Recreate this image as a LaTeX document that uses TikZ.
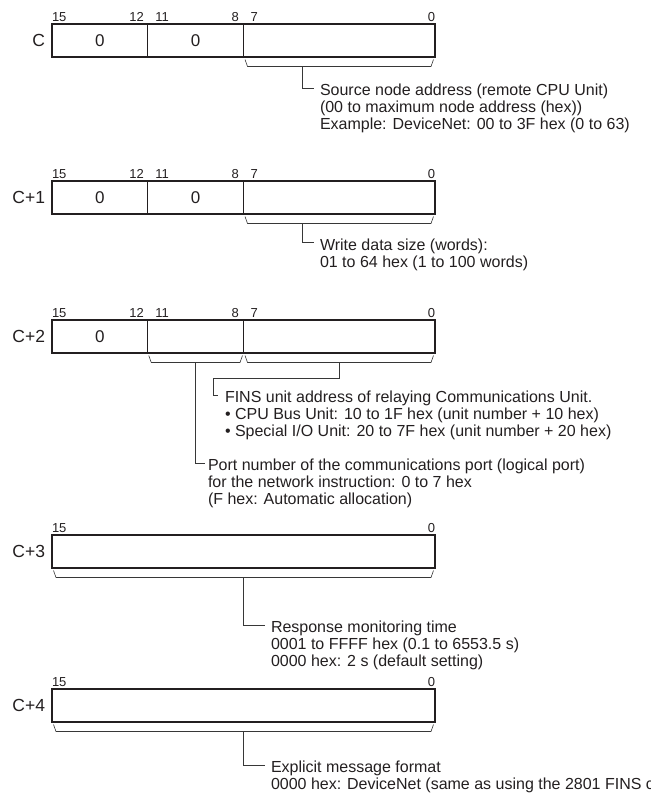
\documentclass[tikz,border=0pt]{standalone}
\usepackage{fontspec}
\setmainfont{Liberation Sans}
\usepackage{xcolor}
\usetikzlibrary{positioning}
\definecolor{ink}{RGB}{35,31,32}
\definecolor{rule}{RGB}{55,55,55}

\begin{document}
\begin{tikzpicture}[x=1pt, y=-1pt,
  cell/.style={draw=ink, line width=0.8pt, minimum height=33pt, minimum width=95.75pt, inner sep=0pt, outer sep=0pt, font=\fontsize{17}{20}\selectfont, text=ink},
  frame/.style={draw=ink, line width=1.6pt},
  reg/.style={inner sep=0pt, outer sep=0pt, font=\fontsize{17.5}{20}\selectfont, text=ink},
  bitno/.style={inner sep=0pt, outer sep=0pt, font=\fontsize{13}{14}\selectfont, text=ink},
  note/.style={inner sep=0pt, outer sep=0pt, align=left, font=\fontsize{16}{17}\selectfont, text=ink},
  brk/.style={draw=rule, line width=0.6pt, line join=round},
  lead/.style={draw=rule, line width=0.6pt}]
  \useasboundingbox (0,0) rectangle (651,793);

  \node[cell, anchor=north west] (w0a) at (52,24) {0};
  \node[cell, right=0pt of w0a] (w0b) {0};
  \node[cell, minimum width=191.5pt, right=0pt of w0b] (w0c) {};
  \draw[frame] (w0a.north west) rectangle (w0c.south east);
  \node[reg, left=7pt of w0a] (l0) {C};
  \node[bitno, anchor=base west] (w0n15) at ([yshift=3pt]w0a.north west) {15};
  \node[bitno, anchor=base east] (w0n12) at ([xshift=-4pt,yshift=3pt]w0a.north east) {12};
  \node[bitno, anchor=base west] (w0n11) at ([xshift=7.5pt,yshift=3pt]w0b.north west) {11};
  \node[bitno, anchor=base east] (w0n8) at ([xshift=-4.7pt,yshift=3pt]w0b.north east) {8};
  \node[bitno, anchor=base west] (w0n7) at ([xshift=7pt,yshift=3pt]w0c.north west) {7};
  \node[bitno, anchor=base east] (w0n0) at ([yshift=3pt]w0c.north east) {0};
  \draw[brk] ([xshift=1.5pt,yshift=-2.5pt]w0c.south west) -- ++(2.5,7) -- ([xshift=-4pt,yshift=-9.5pt]w0c.south east) -- ++(2.5,-7);
  \coordinate (k0) at ([xshift=58.5pt,yshift=-9.5pt]w0c.south west);
  \node[note, below right=17.5pt and 18pt of k0] (t0)
    {Source node address (remote CPU Unit)\\(00 to maximum node address (hex))\\Example: DeviceNet: 00 to 3F hex (0 to 63)};
  \draw[lead] (k0) |- ([xshift=-6pt,yshift=-4pt]t0.north west);

  \node[cell, anchor=north west] (w1a) at (52,181) {0};
  \node[cell, right=0pt of w1a] (w1b) {0};
  \node[cell, minimum width=191.5pt, right=0pt of w1b] (w1c) {};
  \draw[frame] (w1a.north west) rectangle (w1c.south east);
  \node[reg, left=7pt of w1a] (l1) {C+1};
  \node[bitno, anchor=base west] (w1n15) at ([yshift=3pt]w1a.north west) {15};
  \node[bitno, anchor=base east] (w1n12) at ([xshift=-4pt,yshift=3pt]w1a.north east) {12};
  \node[bitno, anchor=base west] (w1n11) at ([xshift=7.5pt,yshift=3pt]w1b.north west) {11};
  \node[bitno, anchor=base east] (w1n8) at ([xshift=-4.7pt,yshift=3pt]w1b.north east) {8};
  \node[bitno, anchor=base west] (w1n7) at ([xshift=7pt,yshift=3pt]w1c.north west) {7};
  \node[bitno, anchor=base east] (w1n0) at ([yshift=3pt]w1c.north east) {0};
  \draw[brk] ([xshift=1.5pt,yshift=-2.5pt]w1c.south west) -- ++(2.5,7) -- ([xshift=-4pt,yshift=-9.5pt]w1c.south east) -- ++(2.5,-7);
  \coordinate (k1) at ([xshift=58.5pt,yshift=-9.5pt]w1c.south west);
  \node[note, below right=15pt and 18pt of k1] (t1)
    {Write data size (words):\\01 to 64 hex (1 to 100 words)};
  \draw[lead] (k1) |- ([xshift=-6pt,yshift=-4pt]t1.north west);

  \node[cell, anchor=north west] (w2a) at (52,320) {0};
  \node[cell, right=0pt of w2a] (w2b) {};
  \node[cell, minimum width=191.5pt, right=0pt of w2b] (w2c) {};
  \draw[frame] (w2a.north west) rectangle (w2c.south east);
  \node[reg, left=7pt of w2a] (l2) {C+2};
  \node[bitno, anchor=base west] (w2n15) at ([yshift=3pt]w2a.north west) {15};
  \node[bitno, anchor=base east] (w2n12) at ([xshift=-4pt,yshift=3pt]w2a.north east) {12};
  \node[bitno, anchor=base west] (w2n11) at ([xshift=7.5pt,yshift=3pt]w2b.north west) {11};
  \node[bitno, anchor=base east] (w2n8) at ([xshift=-4.7pt,yshift=3pt]w2b.north east) {8};
  \node[bitno, anchor=base west] (w2n7) at ([xshift=7pt,yshift=3pt]w2c.north west) {7};
  \node[bitno, anchor=base east] (w2n0) at ([yshift=3pt]w2c.north east) {0};
  \draw[brk] ([xshift=1pt,yshift=-2.5pt]w2b.south west) -- ++(2.5,7) -- ([xshift=-3.5pt,yshift=-9.5pt]w2b.south east) -- ++(2.5,-7);
  \draw[brk] ([xshift=1.5pt,yshift=-2.5pt]w2c.south west) -- ++(2.5,7) -- ([xshift=-4pt,yshift=-9.5pt]w2c.south east) -- ++(2.5,-7);
  \coordinate (k2b) at ([yshift=-9.5pt]w2b.south);
  \coordinate (k2c) at ([yshift=-9.5pt]w2c.south);
  \node[note, anchor=north west] (t2c) at (225,391)
    {FINS unit address of relaying Communications Unit.\\\textbullet\ CPU Bus Unit: 10 to 1F hex (unit number + 10 hex)\\\textbullet\ Special I/O Unit: 20 to 7F hex (unit number + 20 hex)};
  \node[note, anchor=north west] (t2b) at (208,459)
    {Port number of the communications port (logical port)\\for the network instruction: 0 to 7 hex\\(F hex: Automatic allocation)};
  \draw[lead] (k2c) -- ++(0,15.5) -| ([xshift=-12pt,yshift=-4pt]t2c.north west) -- ++(4.5,0);
  \draw[lead] (k2b) |- ([xshift=-3pt,yshift=-4pt]t2b.north west);

  \node[cell, minimum width=383pt, anchor=north west] (w3) at (52,535) {};
  \draw[frame] (w3.north west) rectangle (w3.south east);
  \node[reg, left=7pt of w3] (l3) {C+3};
  \node[bitno, anchor=base west] (w3n15) at ([yshift=3pt]w3.north west) {15};
  \node[bitno, anchor=base east] (w3n0) at ([yshift=3pt]w3.north east) {0};
  \draw[brk] ([xshift=1.5pt,yshift=-2.5pt]w3.south west) -- ++(2.5,7) -- ([xshift=-4pt,yshift=-9.5pt]w3.south east) -- ++(2.5,-7);
  \coordinate (k3) at ([yshift=-9.5pt]w3.south);
  \node[note, below right=43.5pt and 27.5pt of k3] (t3)
    {Response monitoring time\\0001 to FFFF hex (0.1 to 6553.5 s)\\0000 hex: 2 s (default setting)};
  \draw[lead] (k3) |- ([xshift=-6pt,yshift=-4pt]t3.north west);

  \node[cell, minimum width=383pt, anchor=north west] (w4) at (52,689) {};
  \draw[frame] (w4.north west) rectangle (w4.south east);
  \node[reg, left=7pt of w4] (l4) {C+4};
  \node[bitno, anchor=base west] (w4n15) at ([yshift=3pt]w4.north west) {15};
  \node[bitno, anchor=base east] (w4n0) at ([yshift=3pt]w4.north east) {0};
  \draw[brk] ([xshift=1.5pt,yshift=-2.5pt]w4.south west) -- ++(2.5,7) -- ([xshift=-4pt,yshift=-9.5pt]w4.south east) -- ++(2.5,-7);
  \coordinate (k4) at ([yshift=-9.5pt]w4.south);
  \node[note, below right=29pt and 27.5pt of k4] (t4)
    {Explicit message format\\0000 hex: DeviceNet (same as using the 2801 FINS c};
  \draw[lead] (k4) |- ([xshift=-6pt,yshift=-5pt]t4.north west);
\end{tikzpicture}
\end{document}
